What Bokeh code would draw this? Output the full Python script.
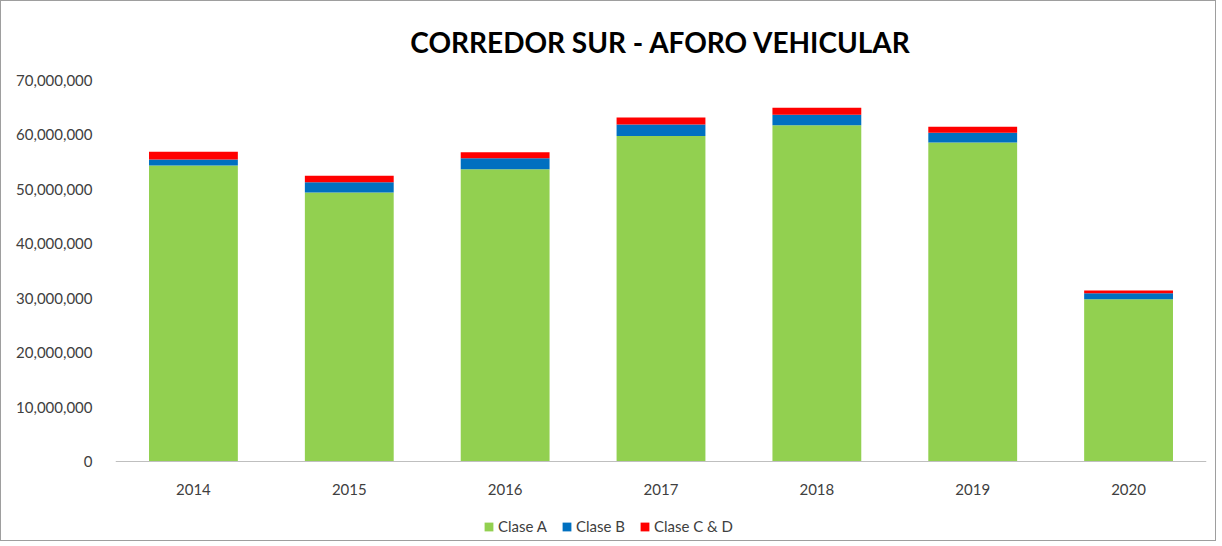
from bokeh.plotting import figure
from bokeh.models import Legend, LegendItem, NumeralTickFormatter, Range1d, ColumnDataSource
from bokeh.embed import file_html
from bokeh.resources import INLINE

years = ["2014", "2015", "2016", "2017", "2018", "2019", "2020"]
clase_a = [54.4e6, 49.4e6, 53.7e6, 59.8e6, 61.8e6, 58.6e6, 29.8e6]
clase_b = [1.1e6, 1.9e6, 2.0e6, 2.1e6, 1.9e6, 1.8e6, 1.1e6]
clase_cd = [1.4e6, 1.2e6, 1.1e6, 1.3e6, 1.3e6, 1.1e6, 0.5e6]
series = ["Clase A", "Clase B", "Clase C & D"]
colors = ["#92D050", "#0070C0", "#FF0000"]

source = ColumnDataSource(data={"year": years, "Clase A": clase_a,
                                "Clase B": clase_b, "Clase C & D": clase_cd})

p = figure(x_range=years, frame_width=1091, frame_height=460,
           output_backend="svg",
           toolbar_location=None, title="CORREDOR SUR - AFORO VEHICULAR",
           min_border_left=114, min_border_right=9, min_border_top=24,
           min_border_bottom=0)
# extra space below zero holds the axis labels and legend inside the frame
p.y_range = Range1d(-70e6 * 79 / 381, 70e6)
p.styles = {"border": "1.5px solid #9E9E9E", "box-sizing": "border-box"}

renderers = p.vbar_stack(series, x="year", width=0.57, color=colors,
                         source=source, line_color=None)

p.title.text_font = "Lato"
p.title.text_font_style = "bold"
p.title.text_font_size = "28px"
p.title.align = "center"
p.title.text_color = "#000000"
p.title.standoff = 43

p.yaxis.formatter = NumeralTickFormatter(format="0,0")
p.yaxis.ticker = [0, 10e6, 20e6, 30e6, 40e6, 50e6, 60e6, 70e6]
p.yaxis.axis_line_color = None
p.yaxis.major_tick_line_color = None
p.yaxis.minor_tick_line_color = None
p.yaxis.major_label_standoff = 17
p.xaxis.fixed_location = 0
p.xaxis.axis_line_color = "#BFBFBF"
p.xaxis.axis_line_width = 1
p.xaxis.major_tick_line_color = None
p.xaxis.minor_tick_line_color = None
p.xaxis.major_label_standoff = 16
for ax in (p.xaxis, p.yaxis):
    ax.major_label_text_font = "Lato"
    ax.major_label_text_font_size = "15px"
    ax.major_label_text_color = "#404040"

p.xgrid.grid_line_color = None
p.ygrid.grid_line_color = None
p.outline_line_color = None
p.x_range.range_padding = 0.0

legend = Legend(items=[LegendItem(label=s, renderers=[r]) for s, r in zip(series, renderers)],
                orientation="horizontal", location=(368, 5),
                label_text_font="Lato", label_text_font_size="15px",
                label_text_color="#404040", glyph_width=11, glyph_height=11,
                spacing=14, border_line_color=None, background_fill_alpha=0,
                margin=0, padding=4, label_standoff=4)
p.add_layout(legend)

open("out.html", "w").write(file_html(p, INLINE))
